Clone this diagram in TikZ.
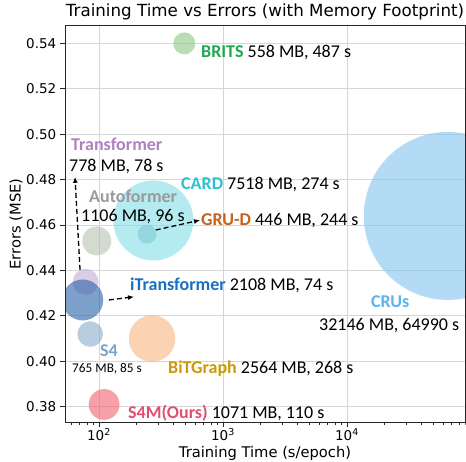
\documentclass[tikz,border=0pt]{standalone}
\usepackage{fontspec}
\setmainfont{Carlito}
\newfontfamily\axisfont{DejaVu Sans}
\usetikzlibrary{arrows.meta}

% bubble fills (drawn at 60% opacity)
\definecolor{britsfill}{HTML}{8AC684}
\definecolor{tffill}{HTML}{C6AAD4}
\definecolor{affill}{HTML}{B6C1B1}
\definecolor{cardfill}{HTML}{82DEE6}
\definecolor{grufill}{HTML}{7FCCD4}
\definecolor{itfill}{HTML}{2761A7}
\definecolor{crufill}{HTML}{80C3F0}
\definecolor{sfourfill}{HTML}{89ADCB}
\definecolor{bitfill}{HTML}{F8B67F}
\definecolor{oursfill}{HTML}{F0616E}
% model names
\definecolor{britstxt}{HTML}{1FA84F}
\definecolor{tftxt}{HTML}{B07FC0}
\definecolor{aftxt}{HTML}{9A9A9A}
\definecolor{cardtxt}{HTML}{2CC0D0}
\definecolor{grutxt}{HTML}{C9601C}
\definecolor{ittxt}{HTML}{1A6FC4}
\definecolor{crutxt}{HTML}{5AB4EE}
\definecolor{sfourtxt}{HTML}{7BA4C9}
\definecolor{bittxt}{HTML}{C89A0A}
\definecolor{ourstxt}{HTML}{E0506E}

\begin{document}
\begin{tikzpicture}[x=1pt,y=1pt,
    bubble/.style={circle,inner sep=0pt,draw=none,fill opacity=0.6},
    lbl/.style={anchor=base west,inner sep=0pt,font=\fontsize{18}{21}\selectfont},
    axislbl/.style={inner sep=0pt,font=\axisfont\fontsize{13.5}{16}\selectfont},
    gridline/.style={gray!32,line width=1pt},
    spine/.style={black!85,line width=0.8pt},
    callout/.style={dashed,dash pattern=on 5pt off 3pt,line width=1.3pt,-{Latex[length=6pt,width=5pt]}}]
    \useasboundingbox (0,0) rectangle (466,462);

    % grid
    \foreach \e in {0.38,0.40,0.42,0.44,0.46,0.48,0.50,0.52,0.54}
    {
        \draw[gridline] (65,{55.3+2271*(\e-0.38)}) -- (465,{55.3+2271*(\e-0.38)});
    }
    \foreach \k in {2,3,4}
    {
        \draw[gridline] ({99+124*(\k-2)},40) -- ({99+124*(\k-2)},437);
    }

    % bubbles: name/log10 time/error/radius/fill
    \begin{scope}
        \clip (65,40) rectangle (465,437);
        \foreach \n/\lt/\e/\r/\c in {
        brits/2.688/0.540/11/britsfill,
        tfb/1.892/0.435/13/tffill,
        afb/1.982/0.453/14.5/affill,
        cardb/2.438/0.462/40/cardfill,
        grub/2.387/0.456/9.5/grufill,
        itb/1.869/0.427/20.5/itfill,
        crub/4.813/0.464/84/crufill,
        sfourb/1.929/0.412/12.8/sfourfill,
        bitb/2.428/0.410/23.3/bitfill,
        oursb/2.041/0.381/15.4/oursfill}
        {
            \node[bubble,fill=\c,minimum size={2*\r*1pt}] (\n) at ({99+124*(\lt-2)},{55.3+2271*(\e-0.38)}) {};
        }
    \end{scope}

    % axes
    \draw[spine] (65,40) rectangle (465,437);
    \foreach \e in {0.38,0.40,0.42,0.44,0.46,0.48,0.50,0.52,0.54}
    {
        \draw[spine] (60,{55.3+2271*(\e-0.38)}) -- (65,{55.3+2271*(\e-0.38)});
        \node[axislbl,anchor=east] at (56.5,{55.3+2271*(\e-0.38)}) {\e};
    }
    \foreach \k in {2,3,4}
    {
        \draw[spine] ({99+124*(\k-2)},40) -- ({99+124*(\k-2)},35);
        \node[axislbl,anchor=base] at ({99+124*(\k-2)},21.4) {10\textsuperscript{\k}};
    }
    \begin{scope}
        \clip (64.5,30) rectangle (465.5,40);
        \foreach \d in {1,...,4}
            \foreach \m in {2,...,9}
                \draw[spine,line width=0.6pt] ({99+124*(\d-2+log10(\m))},40) -- ({99+124*(\d-2+log10(\m))},37);
    \end{scope}

    \node[font=\axisfont\fontsize{16.7}{20}\selectfont] (title) at (265,450) {Training Time vs Errors (with Memory Footprint)};
    \node[font=\axisfont\fontsize{14.7}{18}\selectfont] (xlab) at (265,9) {Training Time (s/epoch)};
    \node[font=\axisfont\fontsize{14.7}{18}\selectfont,rotate=90] (ylab) at (16,238) {Errors (MSE)};

    % model labels
    \node[lbl] (britslbl) at (201,404.5) {\textcolor{britstxt}{\bfseries BRITS} 558 MB, 487 s};
    \node[lbl,text=tftxt,font=\fontsize{18}{21}\selectfont\bfseries] (tflbl) at (71,311.2) {Transformer};
    \node[lbl] (tfstats) at (69,290.2) {778 MB, 78 s};
    \node[lbl,text=aftxt,font=\fontsize{18}{21}\selectfont\bfseries] (aflbl) at (89,259.5) {Autoformer};
    \node[lbl] (afstats) at (81,240.2) {1106 MB, 96 s};
    \node[lbl] (cardlbl) at (181,272.9) {\textcolor{cardtxt}{\bfseries CARD} 7518 MB, 274 s};
    \node[lbl] (grulbl) at (201,236.9) {\textcolor{grutxt}{\bfseries GRU-D} 446 MB, 244 s};
    \node[lbl] (itlbl) at (130,171.2) {\textcolor{ittxt}{\bfseries iTransformer} 2108 MB, 74 s};
    \node[lbl,text=crutxt,font=\fontsize{18}{21}\selectfont\bfseries] (crulbl) at (371,154.5) {CRUs};
    \node[lbl] (crustats) at (319,131.9) {32146 MB, 64990 s};
    \node[lbl,text=sfourtxt,font=\fontsize{18}{21}\selectfont\bfseries] (sfourlbl) at (100,105.5) {S4};
    \node[lbl,font=\fontsize{13.3}{16}\selectfont] (sfourstats) at (72,89.4) {765 MB, 85 s};
    \node[lbl] (bitlbl) at (168,88.9) {\textcolor{bittxt}{\bfseries BiTGraph} 2564 MB, 268 s};
    \node[lbl] (ourslbl) at (128,43.5) {\textcolor{ourstxt}{\bfseries S4M(Ours)} 1071 MB, 110 s};

    % callouts
    \draw[callout] (tfb.115) -- ([xshift=6pt,yshift=-2.5pt]tfstats.south west);
    \draw[callout] ([xshift=5.5pt]itb.east) -- ([xshift=4pt,yshift=-3.5pt]itlbl.south west);
    \draw[callout] (grub.25) -- ([xshift=-1pt]grulbl.west);
\end{tikzpicture}
\end{document}
